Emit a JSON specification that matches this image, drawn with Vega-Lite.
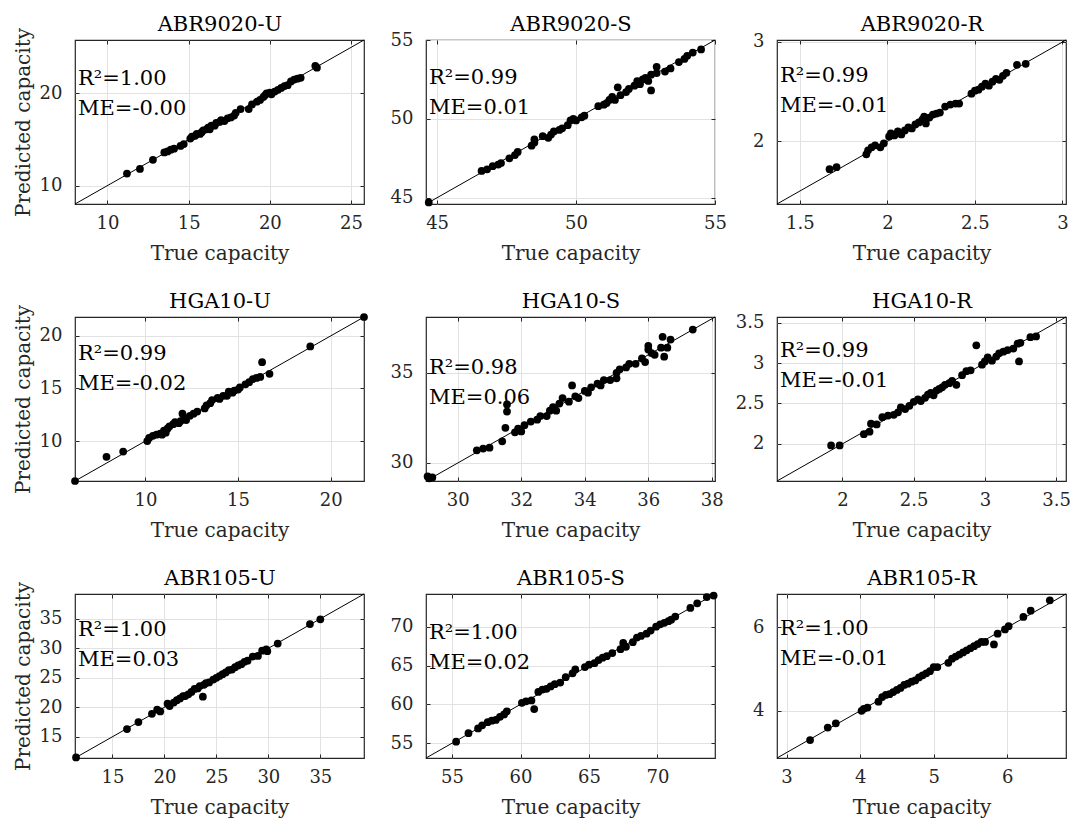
{
  "$schema": "https://vega.github.io/schema/vega-lite/v6.json",
  "padding": {"left": 12, "top": 12, "right": 4, "bottom": 4},
  "background": "white",
  "bounds": "flush",
  "columns": 3,
  "spacing": {"row": 113, "column": 62},
  "datasets": {
    "rows": [
      {"panel":"ABR9020-U","kind":"diag","t":8,"p":8,"t2":25.8,"p2":25.8},
      {"panel":"ABR9020-U","kind":"note","t":8,"p":20.91,"label":"R²=1.00\nME=-0.00"},
      {"panel":"ABR9020-S","kind":"diag","t":44.6,"p":44.6,"t2":55,"p2":55},
      {"panel":"ABR9020-S","kind":"note","t":44.6,"p":52.19,"label":"R²=0.99\nME=0.01"},
      {"panel":"ABR9020-R","kind":"diag","t":1.37,"p":1.37,"t2":3.02,"p2":3.02},
      {"panel":"ABR9020-R","kind":"note","t":1.37,"p":2.6,"label":"R²=0.99\nME=-0.01"},
      {"panel":"HGA10-U","kind":"diag","t":6.2,"p":6.2,"t2":21.8,"p2":21.8},
      {"panel":"HGA10-U","kind":"note","t":6.2,"p":17.68,"label":"R²=0.99\nME=-0.02"},
      {"panel":"HGA10-S","kind":"diag","t":29.0,"p":29.0,"t2":38.1,"p2":38.1},
      {"panel":"HGA10-S","kind":"note","t":29.0,"p":34.95,"label":"R²=0.98\nME=0.06"},
      {"panel":"HGA10-R","kind":"diag","t":1.54,"p":1.54,"t2":3.57,"p2":3.57},
      {"panel":"HGA10-R","kind":"note","t":1.54,"p":3.08,"label":"R²=0.99\nME=-0.01"},
      {"panel":"ABR105-U","kind":"diag","t":11.4,"p":11.4,"t2":39.2,"p2":39.2},
      {"panel":"ABR105-U","kind":"note","t":11.4,"p":32.06,"label":"R²=1.00\nME=0.03"},
      {"panel":"ABR105-S","kind":"diag","t":53.1,"p":53.1,"t2":74.2,"p2":74.2},
      {"panel":"ABR105-S","kind":"note","t":53.1,"p":68.37,"label":"R²=1.00\nME=0.02"},
      {"panel":"ABR105-R","kind":"diag","t":2.87,"p":2.87,"t2":6.8,"p2":6.8},
      {"panel":"ABR105-R","kind":"note","t":2.87,"p":5.82,"label":"R²=1.00\nME=-0.01"},

      {"panel":"ABR9020-U","t":11.2,"p":11.3},{"panel":"ABR9020-U","t":12.0,"p":11.8},{"panel":"ABR9020-U","t":12.8,"p":12.8},{"panel":"ABR9020-U","t":13.5,"p":13.6},{"panel":"ABR9020-U","t":13.7,"p":13.7},{"panel":"ABR9020-U","t":13.9,"p":13.9},{"panel":"ABR9020-U","t":14.1,"p":14.0},{"panel":"ABR9020-U","t":14.5,"p":14.3},{"panel":"ABR9020-U","t":14.7,"p":14.5},{"panel":"ABR9020-U","t":15.1,"p":15.1},{"panel":"ABR9020-U","t":15.2,"p":15.3},{"panel":"ABR9020-U","t":15.4,"p":15.4},{"panel":"ABR9020-U","t":15.5,"p":15.6},{"panel":"ABR9020-U","t":15.7,"p":15.6},{"panel":"ABR9020-U","t":15.8,"p":15.8},{"panel":"ABR9020-U","t":15.9,"p":16.0},{"panel":"ABR9020-U","t":16.1,"p":16.1},{"panel":"ABR9020-U","t":16.2,"p":16.3},{"panel":"ABR9020-U","t":16.3,"p":16.1},{"panel":"ABR9020-U","t":16.4,"p":16.5},{"panel":"ABR9020-U","t":16.6,"p":16.5},{"panel":"ABR9020-U","t":16.7,"p":16.8},{"panel":"ABR9020-U","t":16.9,"p":16.9},{"panel":"ABR9020-U","t":17.0,"p":17.1},{"panel":"ABR9020-U","t":17.2,"p":17.0},{"panel":"ABR9020-U","t":17.4,"p":17.3},{"panel":"ABR9020-U","t":17.6,"p":17.4},{"panel":"ABR9020-U","t":17.8,"p":17.6},{"panel":"ABR9020-U","t":17.9,"p":17.9},{"panel":"ABR9020-U","t":18.2,"p":18.3},{"panel":"ABR9020-U","t":18.7,"p":18.3},{"panel":"ABR9020-U","t":18.9,"p":18.8},{"panel":"ABR9020-U","t":19.2,"p":19.1},{"panel":"ABR9020-U","t":19.4,"p":19.3},{"panel":"ABR9020-U","t":19.6,"p":19.6},{"panel":"ABR9020-U","t":19.7,"p":19.8},{"panel":"ABR9020-U","t":19.8,"p":20.0},{"panel":"ABR9020-U","t":20.0,"p":20.1},{"panel":"ABR9020-U","t":20.1,"p":19.9},{"panel":"ABR9020-U","t":20.3,"p":20.2},{"panel":"ABR9020-U","t":20.5,"p":20.4},{"panel":"ABR9020-U","t":20.7,"p":20.6},{"panel":"ABR9020-U","t":20.9,"p":20.8},{"panel":"ABR9020-U","t":21.1,"p":20.9},{"panel":"ABR9020-U","t":21.3,"p":21.3},{"panel":"ABR9020-U","t":21.5,"p":21.5},{"panel":"ABR9020-U","t":21.7,"p":21.6},{"panel":"ABR9020-U","t":21.9,"p":21.7},{"panel":"ABR9020-U","t":22.8,"p":23.0},{"panel":"ABR9020-U","t":22.9,"p":22.8},

      {"panel":"ABR9020-S","t":44.7,"p":44.7},{"panel":"ABR9020-S","t":46.6,"p":46.7},{"panel":"ABR9020-S","t":46.8,"p":46.8},{"panel":"ABR9020-S","t":47.0,"p":47.0},{"panel":"ABR9020-S","t":47.2,"p":47.1},{"panel":"ABR9020-S","t":47.3,"p":47.2},{"panel":"ABR9020-S","t":47.6,"p":47.5},{"panel":"ABR9020-S","t":47.8,"p":47.7},{"panel":"ABR9020-S","t":47.9,"p":47.9},{"panel":"ABR9020-S","t":48.4,"p":48.3},{"panel":"ABR9020-S","t":48.5,"p":48.5},{"panel":"ABR9020-S","t":48.5,"p":48.7},{"panel":"ABR9020-S","t":48.8,"p":48.9},{"panel":"ABR9020-S","t":49.0,"p":48.8},{"panel":"ABR9020-S","t":49.1,"p":49.0},{"panel":"ABR9020-S","t":49.2,"p":49.2},{"panel":"ABR9020-S","t":49.4,"p":49.3},{"panel":"ABR9020-S","t":49.5,"p":49.4},{"panel":"ABR9020-S","t":49.7,"p":49.6},{"panel":"ABR9020-S","t":49.8,"p":49.9},{"panel":"ABR9020-S","t":49.9,"p":50.0},{"panel":"ABR9020-S","t":50.0,"p":49.9},{"panel":"ABR9020-S","t":50.2,"p":50.1},{"panel":"ABR9020-S","t":50.3,"p":50.2},{"panel":"ABR9020-S","t":50.8,"p":50.8},{"panel":"ABR9020-S","t":51.0,"p":50.9},{"panel":"ABR9020-S","t":51.1,"p":51.0},{"panel":"ABR9020-S","t":51.2,"p":51.2},{"panel":"ABR9020-S","t":51.3,"p":51.4},{"panel":"ABR9020-S","t":51.4,"p":51.2},{"panel":"ABR9020-S","t":51.5,"p":52.0},{"panel":"ABR9020-S","t":51.6,"p":51.5},{"panel":"ABR9020-S","t":51.8,"p":51.7},{"panel":"ABR9020-S","t":51.9,"p":51.9},{"panel":"ABR9020-S","t":52.1,"p":52.1},{"panel":"ABR9020-S","t":52.2,"p":52.4},{"panel":"ABR9020-S","t":52.3,"p":52.2},{"panel":"ABR9020-S","t":52.4,"p":52.5},{"panel":"ABR9020-S","t":52.5,"p":52.6},{"panel":"ABR9020-S","t":52.6,"p":52.4},{"panel":"ABR9020-S","t":52.7,"p":51.8},{"panel":"ABR9020-S","t":52.7,"p":52.8},{"panel":"ABR9020-S","t":52.9,"p":53.3},{"panel":"ABR9020-S","t":52.9,"p":52.9},{"panel":"ABR9020-S","t":53.2,"p":53.0},{"panel":"ABR9020-S","t":53.4,"p":53.2},{"panel":"ABR9020-S","t":53.7,"p":53.6},{"panel":"ABR9020-S","t":53.9,"p":53.8},{"panel":"ABR9020-S","t":54.0,"p":54.0},{"panel":"ABR9020-S","t":54.2,"p":54.2},{"panel":"ABR9020-S","t":54.5,"p":54.4},

      {"panel":"ABR9020-R","t":1.67,"p":1.72},{"panel":"ABR9020-R","t":1.71,"p":1.74},{"panel":"ABR9020-R","t":1.88,"p":1.87},{"panel":"ABR9020-R","t":1.89,"p":1.91},{"panel":"ABR9020-R","t":1.91,"p":1.94},{"panel":"ABR9020-R","t":1.93,"p":1.96},{"panel":"ABR9020-R","t":1.96,"p":1.94},{"panel":"ABR9020-R","t":1.98,"p":1.98},{"panel":"ABR9020-R","t":2.01,"p":2.05},{"panel":"ABR9020-R","t":2.02,"p":2.08},{"panel":"ABR9020-R","t":2.04,"p":2.06},{"panel":"ABR9020-R","t":2.06,"p":2.10},{"panel":"ABR9020-R","t":2.08,"p":2.07},{"panel":"ABR9020-R","t":2.10,"p":2.11},{"panel":"ABR9020-R","t":2.12,"p":2.14},{"panel":"ABR9020-R","t":2.14,"p":2.13},{"panel":"ABR9020-R","t":2.16,"p":2.17},{"panel":"ABR9020-R","t":2.18,"p":2.19},{"panel":"ABR9020-R","t":2.20,"p":2.22},{"panel":"ABR9020-R","t":2.21,"p":2.25},{"panel":"ABR9020-R","t":2.22,"p":2.18},{"panel":"ABR9020-R","t":2.24,"p":2.24},{"panel":"ABR9020-R","t":2.26,"p":2.27},{"panel":"ABR9020-R","t":2.28,"p":2.28},{"panel":"ABR9020-R","t":2.30,"p":2.29},{"panel":"ABR9020-R","t":2.33,"p":2.35},{"panel":"ABR9020-R","t":2.36,"p":2.37},{"panel":"ABR9020-R","t":2.39,"p":2.38},{"panel":"ABR9020-R","t":2.41,"p":2.38},{"panel":"ABR9020-R","t":2.48,"p":2.48},{"panel":"ABR9020-R","t":2.50,"p":2.51},{"panel":"ABR9020-R","t":2.52,"p":2.52},{"panel":"ABR9020-R","t":2.54,"p":2.55},{"panel":"ABR9020-R","t":2.56,"p":2.58},{"panel":"ABR9020-R","t":2.58,"p":2.56},{"panel":"ABR9020-R","t":2.60,"p":2.60},{"panel":"ABR9020-R","t":2.62,"p":2.63},{"panel":"ABR9020-R","t":2.64,"p":2.62},{"panel":"ABR9020-R","t":2.66,"p":2.66},{"panel":"ABR9020-R","t":2.68,"p":2.69},{"panel":"ABR9020-R","t":2.74,"p":2.77},{"panel":"ABR9020-R","t":2.79,"p":2.78},

      {"panel":"HGA10-U","t":6.2,"p":6.2},{"panel":"HGA10-U","t":7.9,"p":8.5},{"panel":"HGA10-U","t":8.8,"p":9.0},{"panel":"HGA10-U","t":10.1,"p":10.0},{"panel":"HGA10-U","t":10.2,"p":10.3},{"panel":"HGA10-U","t":10.4,"p":10.5},{"panel":"HGA10-U","t":10.6,"p":10.6},{"panel":"HGA10-U","t":10.8,"p":10.7},{"panel":"HGA10-U","t":10.9,"p":10.6},{"panel":"HGA10-U","t":11.0,"p":11.0},{"panel":"HGA10-U","t":11.1,"p":10.8},{"panel":"HGA10-U","t":11.2,"p":11.2},{"panel":"HGA10-U","t":11.3,"p":11.4},{"panel":"HGA10-U","t":11.5,"p":11.6},{"panel":"HGA10-U","t":11.6,"p":11.8},{"panel":"HGA10-U","t":11.8,"p":11.7},{"panel":"HGA10-U","t":11.9,"p":11.9},{"panel":"HGA10-U","t":12.0,"p":12.6},{"panel":"HGA10-U","t":12.1,"p":12.2},{"panel":"HGA10-U","t":12.2,"p":12.0},{"panel":"HGA10-U","t":12.4,"p":12.4},{"panel":"HGA10-U","t":12.6,"p":12.6},{"panel":"HGA10-U","t":12.8,"p":12.8},{"panel":"HGA10-U","t":13.2,"p":13.1},{"panel":"HGA10-U","t":13.3,"p":13.4},{"panel":"HGA10-U","t":13.5,"p":13.6},{"panel":"HGA10-U","t":13.6,"p":13.9},{"panel":"HGA10-U","t":13.9,"p":14.1},{"panel":"HGA10-U","t":14.0,"p":14.0},{"panel":"HGA10-U","t":14.2,"p":14.3},{"panel":"HGA10-U","t":14.4,"p":14.3},{"panel":"HGA10-U","t":14.5,"p":14.7},{"panel":"HGA10-U","t":14.7,"p":14.6},{"panel":"HGA10-U","t":14.8,"p":14.8},{"panel":"HGA10-U","t":15.0,"p":14.9},{"panel":"HGA10-U","t":15.1,"p":15.1},{"panel":"HGA10-U","t":15.4,"p":15.4},{"panel":"HGA10-U","t":15.6,"p":15.6},{"panel":"HGA10-U","t":15.8,"p":15.9},{"panel":"HGA10-U","t":16.0,"p":16.0},{"panel":"HGA10-U","t":16.2,"p":16.1},{"panel":"HGA10-U","t":16.3,"p":17.5},{"panel":"HGA10-U","t":16.7,"p":16.4},{"panel":"HGA10-U","t":18.9,"p":19.0},{"panel":"HGA10-U","t":21.8,"p":21.8},

      {"panel":"HGA10-S","t":29.05,"p":29.25},{"panel":"HGA10-S","t":29.1,"p":29.15},{"panel":"HGA10-S","t":29.2,"p":29.2},{"panel":"HGA10-S","t":30.6,"p":30.7},{"panel":"HGA10-S","t":30.8,"p":30.8},{"panel":"HGA10-S","t":31.0,"p":30.85},{"panel":"HGA10-S","t":31.4,"p":31.2},{"panel":"HGA10-S","t":31.5,"p":31.95},{"panel":"HGA10-S","t":31.55,"p":32.85},{"panel":"HGA10-S","t":31.55,"p":33.25},{"panel":"HGA10-S","t":31.8,"p":31.7},{"panel":"HGA10-S","t":31.9,"p":31.9},{"panel":"HGA10-S","t":32.0,"p":31.75},{"panel":"HGA10-S","t":32.1,"p":32.1},{"panel":"HGA10-S","t":32.3,"p":32.3},{"panel":"HGA10-S","t":32.5,"p":32.4},{"panel":"HGA10-S","t":32.6,"p":32.6},{"panel":"HGA10-S","t":32.8,"p":32.6},{"panel":"HGA10-S","t":32.9,"p":32.9},{"panel":"HGA10-S","t":33.0,"p":33.1},{"panel":"HGA10-S","t":33.1,"p":32.9},{"panel":"HGA10-S","t":33.2,"p":33.3},{"panel":"HGA10-S","t":33.3,"p":33.6},{"panel":"HGA10-S","t":33.5,"p":33.4},{"panel":"HGA10-S","t":33.6,"p":34.3},{"panel":"HGA10-S","t":33.7,"p":33.7},{"panel":"HGA10-S","t":33.8,"p":33.6},{"panel":"HGA10-S","t":34.0,"p":34.0},{"panel":"HGA10-S","t":34.1,"p":33.9},{"panel":"HGA10-S","t":34.2,"p":34.2},{"panel":"HGA10-S","t":34.4,"p":34.4},{"panel":"HGA10-S","t":34.5,"p":34.3},{"panel":"HGA10-S","t":34.6,"p":34.6},{"panel":"HGA10-S","t":34.8,"p":34.6},{"panel":"HGA10-S","t":35.0,"p":35.0},{"panel":"HGA10-S","t":35.0,"p":34.7},{"panel":"HGA10-S","t":35.1,"p":35.2},{"panel":"HGA10-S","t":35.3,"p":35.3},{"panel":"HGA10-S","t":35.4,"p":35.5},{"panel":"HGA10-S","t":35.6,"p":35.5},{"panel":"HGA10-S","t":35.8,"p":35.8},{"panel":"HGA10-S","t":35.9,"p":35.6},{"panel":"HGA10-S","t":36.0,"p":36.3},{"panel":"HGA10-S","t":36.0,"p":36.5},{"panel":"HGA10-S","t":36.1,"p":36.1},{"panel":"HGA10-S","t":36.2,"p":36.0},{"panel":"HGA10-S","t":36.4,"p":36.4},{"panel":"HGA10-S","t":36.45,"p":37.0},{"panel":"HGA10-S","t":36.5,"p":35.9},{"panel":"HGA10-S","t":36.6,"p":36.4},{"panel":"HGA10-S","t":36.7,"p":36.85},{"panel":"HGA10-S","t":37.4,"p":37.4},

      {"panel":"HGA10-R","t":1.92,"p":1.98},{"panel":"HGA10-R","t":1.98,"p":1.98},{"panel":"HGA10-R","t":2.15,"p":2.12},{"panel":"HGA10-R","t":2.19,"p":2.15},{"panel":"HGA10-R","t":2.2,"p":2.25},{"panel":"HGA10-R","t":2.24,"p":2.24},{"panel":"HGA10-R","t":2.28,"p":2.33},{"panel":"HGA10-R","t":2.32,"p":2.35},{"panel":"HGA10-R","t":2.36,"p":2.36},{"panel":"HGA10-R","t":2.39,"p":2.39},{"panel":"HGA10-R","t":2.41,"p":2.45},{"panel":"HGA10-R","t":2.44,"p":2.43},{"panel":"HGA10-R","t":2.47,"p":2.47},{"panel":"HGA10-R","t":2.5,"p":2.52},{"panel":"HGA10-R","t":2.53,"p":2.55},{"panel":"HGA10-R","t":2.55,"p":2.53},{"panel":"HGA10-R","t":2.58,"p":2.57},{"panel":"HGA10-R","t":2.6,"p":2.61},{"panel":"HGA10-R","t":2.62,"p":2.63},{"panel":"HGA10-R","t":2.64,"p":2.6},{"panel":"HGA10-R","t":2.66,"p":2.66},{"panel":"HGA10-R","t":2.68,"p":2.68},{"panel":"HGA10-R","t":2.7,"p":2.7},{"panel":"HGA10-R","t":2.72,"p":2.73},{"panel":"HGA10-R","t":2.75,"p":2.75},{"panel":"HGA10-R","t":2.77,"p":2.78},{"panel":"HGA10-R","t":2.8,"p":2.73},{"panel":"HGA10-R","t":2.84,"p":2.85},{"panel":"HGA10-R","t":2.87,"p":2.9},{"panel":"HGA10-R","t":2.9,"p":2.91},{"panel":"HGA10-R","t":2.94,"p":3.22},{"panel":"HGA10-R","t":2.98,"p":2.98},{"panel":"HGA10-R","t":3.0,"p":3.02},{"panel":"HGA10-R","t":3.02,"p":3.07},{"panel":"HGA10-R","t":3.05,"p":3.03},{"panel":"HGA10-R","t":3.08,"p":3.08},{"panel":"HGA10-R","t":3.1,"p":3.12},{"panel":"HGA10-R","t":3.13,"p":3.14},{"panel":"HGA10-R","t":3.16,"p":3.16},{"panel":"HGA10-R","t":3.2,"p":3.18},{"panel":"HGA10-R","t":3.23,"p":3.24},{"panel":"HGA10-R","t":3.25,"p":3.25},{"panel":"HGA10-R","t":3.24,"p":3.02},{"panel":"HGA10-R","t":3.32,"p":3.32},{"panel":"HGA10-R","t":3.36,"p":3.33},

      {"panel":"ABR105-U","t":11.5,"p":11.5},{"panel":"ABR105-U","t":16.4,"p":16.3},{"panel":"ABR105-U","t":17.5,"p":17.5},{"panel":"ABR105-U","t":18.8,"p":18.9},{"panel":"ABR105-U","t":19.3,"p":19.6},{"panel":"ABR105-U","t":19.6,"p":19.3},{"panel":"ABR105-U","t":20.3,"p":20.6},{"panel":"ABR105-U","t":20.5,"p":20.2},{"panel":"ABR105-U","t":20.9,"p":20.8},{"panel":"ABR105-U","t":21.2,"p":21.2},{"panel":"ABR105-U","t":21.5,"p":21.5},{"panel":"ABR105-U","t":21.8,"p":21.9},{"panel":"ABR105-U","t":22.0,"p":21.9},{"panel":"ABR105-U","t":22.3,"p":22.2},{"panel":"ABR105-U","t":22.6,"p":22.6},{"panel":"ABR105-U","t":22.9,"p":23.1},{"panel":"ABR105-U","t":23.2,"p":23.2},{"panel":"ABR105-U","t":23.4,"p":23.6},{"panel":"ABR105-U","t":23.7,"p":21.8},{"panel":"ABR105-U","t":23.8,"p":23.8},{"panel":"ABR105-U","t":24.0,"p":24.1},{"panel":"ABR105-U","t":24.3,"p":24.2},{"panel":"ABR105-U","t":24.7,"p":24.7},{"panel":"ABR105-U","t":25.0,"p":25.0},{"panel":"ABR105-U","t":25.3,"p":25.3},{"panel":"ABR105-U","t":25.6,"p":25.6},{"panel":"ABR105-U","t":25.9,"p":25.9},{"panel":"ABR105-U","t":26.2,"p":26.3},{"panel":"ABR105-U","t":26.5,"p":26.4},{"panel":"ABR105-U","t":26.8,"p":26.8},{"panel":"ABR105-U","t":27.1,"p":27.1},{"panel":"ABR105-U","t":27.4,"p":27.3},{"panel":"ABR105-U","t":27.7,"p":27.7},{"panel":"ABR105-U","t":28.0,"p":27.9},{"panel":"ABR105-U","t":28.5,"p":28.6},{"panel":"ABR105-U","t":29.0,"p":28.7},{"panel":"ABR105-U","t":29.4,"p":29.6},{"panel":"ABR105-U","t":29.8,"p":29.8},{"panel":"ABR105-U","t":29.9,"p":29.5},{"panel":"ABR105-U","t":30.9,"p":30.8},{"panel":"ABR105-U","t":34.0,"p":34.1},{"panel":"ABR105-U","t":35.0,"p":34.9},

      {"panel":"ABR105-S","t":55.3,"p":55.2},{"panel":"ABR105-S","t":56.2,"p":56.3},{"panel":"ABR105-S","t":56.9,"p":56.9},{"panel":"ABR105-S","t":57.2,"p":57.3},{"panel":"ABR105-S","t":57.6,"p":57.7},{"panel":"ABR105-S","t":57.9,"p":57.9},{"panel":"ABR105-S","t":58.2,"p":58.0},{"panel":"ABR105-S","t":58.5,"p":58.4},{"panel":"ABR105-S","t":58.8,"p":58.7},{"panel":"ABR105-S","t":59.0,"p":59.1},{"panel":"ABR105-S","t":60.1,"p":60.2},{"panel":"ABR105-S","t":60.4,"p":60.4},{"panel":"ABR105-S","t":60.8,"p":60.5},{"panel":"ABR105-S","t":61.0,"p":59.4},{"panel":"ABR105-S","t":61.3,"p":61.6},{"panel":"ABR105-S","t":61.6,"p":61.9},{"panel":"ABR105-S","t":61.9,"p":62.0},{"panel":"ABR105-S","t":62.2,"p":62.3},{"panel":"ABR105-S","t":62.5,"p":62.6},{"panel":"ABR105-S","t":62.9,"p":62.8},{"panel":"ABR105-S","t":63.3,"p":63.5},{"panel":"ABR105-S","t":63.8,"p":64.0},{"panel":"ABR105-S","t":64.0,"p":64.5},{"panel":"ABR105-S","t":64.7,"p":64.8},{"panel":"ABR105-S","t":65.0,"p":65.1},{"panel":"ABR105-S","t":65.4,"p":65.3},{"panel":"ABR105-S","t":65.7,"p":65.7},{"panel":"ABR105-S","t":66.0,"p":66.0},{"panel":"ABR105-S","t":66.3,"p":66.2},{"panel":"ABR105-S","t":66.7,"p":66.6},{"panel":"ABR105-S","t":67.3,"p":67.1},{"panel":"ABR105-S","t":67.5,"p":67.9},{"panel":"ABR105-S","t":67.7,"p":67.4},{"panel":"ABR105-S","t":68.2,"p":68.0},{"panel":"ABR105-S","t":68.5,"p":68.6},{"panel":"ABR105-S","t":68.8,"p":68.8},{"panel":"ABR105-S","t":69.2,"p":69.1},{"panel":"ABR105-S","t":69.5,"p":69.5},{"panel":"ABR105-S","t":69.9,"p":70.0},{"panel":"ABR105-S","t":70.2,"p":70.3},{"panel":"ABR105-S","t":70.5,"p":70.5},{"panel":"ABR105-S","t":70.8,"p":70.7},{"panel":"ABR105-S","t":71.0,"p":70.9},{"panel":"ABR105-S","t":71.3,"p":71.3},{"panel":"ABR105-S","t":72.4,"p":72.4},{"panel":"ABR105-S","t":72.9,"p":73.0},{"panel":"ABR105-S","t":73.6,"p":73.8},{"panel":"ABR105-S","t":74.1,"p":74.0},

      {"panel":"ABR105-R","t":3.32,"p":3.3},{"panel":"ABR105-R","t":3.56,"p":3.6},{"panel":"ABR105-R","t":3.67,"p":3.7},{"panel":"ABR105-R","t":4.02,"p":4.0},{"panel":"ABR105-R","t":4.05,"p":4.05},{"panel":"ABR105-R","t":4.1,"p":4.08},{"panel":"ABR105-R","t":4.25,"p":4.22},{"panel":"ABR105-R","t":4.3,"p":4.33},{"panel":"ABR105-R","t":4.35,"p":4.38},{"panel":"ABR105-R","t":4.4,"p":4.4},{"panel":"ABR105-R","t":4.45,"p":4.45},{"panel":"ABR105-R","t":4.5,"p":4.5},{"panel":"ABR105-R","t":4.55,"p":4.55},{"panel":"ABR105-R","t":4.6,"p":4.62},{"panel":"ABR105-R","t":4.65,"p":4.65},{"panel":"ABR105-R","t":4.7,"p":4.7},{"panel":"ABR105-R","t":4.75,"p":4.73},{"panel":"ABR105-R","t":4.8,"p":4.8},{"panel":"ABR105-R","t":4.85,"p":4.85},{"panel":"ABR105-R","t":4.9,"p":4.9},{"panel":"ABR105-R","t":4.95,"p":4.95},{"panel":"ABR105-R","t":5.0,"p":5.05},{"panel":"ABR105-R","t":5.05,"p":5.05},{"panel":"ABR105-R","t":5.2,"p":5.15},{"panel":"ABR105-R","t":5.25,"p":5.25},{"panel":"ABR105-R","t":5.3,"p":5.3},{"panel":"ABR105-R","t":5.35,"p":5.35},{"panel":"ABR105-R","t":5.4,"p":5.4},{"panel":"ABR105-R","t":5.45,"p":5.45},{"panel":"ABR105-R","t":5.5,"p":5.5},{"panel":"ABR105-R","t":5.55,"p":5.55},{"panel":"ABR105-R","t":5.6,"p":5.6},{"panel":"ABR105-R","t":5.65,"p":5.65},{"panel":"ABR105-R","t":5.7,"p":5.65},{"panel":"ABR105-R","t":5.82,"p":5.59},{"panel":"ABR105-R","t":5.87,"p":5.85},{"panel":"ABR105-R","t":5.97,"p":5.95},{"panel":"ABR105-R","t":6.02,"p":6.03},{"panel":"ABR105-R","t":6.22,"p":6.25},{"panel":"ABR105-R","t":6.32,"p":6.4},{"panel":"ABR105-R","t":6.58,"p":6.65}
    ]
  },
  "concat": [
      {"width":289,"height":164,"data":{"name":"rows"},"transform":[{"filter":"datum.panel==='ABR9020-U'"}],
       "resolve":{"axis":{"x":"independent","y":"independent"}},
       "layer":[
        {"transform":[{"filter":"datum.kind==='diag'"}],"mark":{"type":"rule","color":"#000","strokeWidth":1},
         "encoding":{"x":{"field":"t","type":"quantitative","scale":{"domain":[8,25.8],"nice":false,"zero":false},"axis":{"title":"True capacity","values":[10,15,20,25],"format":".2~f"}},
                     "y":{"field":"p","type":"quantitative","scale":{"domain":[8,25.8],"nice":false,"zero":false},"axis":{"title":"Predicted capacity","values":[10,20],"format":".2~f"}},
                     "x2":{"field":"t2"},"y2":{"field":"p2"}}},
        {"transform":[{"filter":"!datum.kind"}],"mark":{"type":"circle","size":60,"color":"#000","opacity":1},
         "encoding":{"x":{"field":"t","type":"quantitative","axis":{"orient":"top","title":"ABR9020-U","labels":false,"grid":false,"values":[10,15,20,25]}},
                     "y":{"field":"p","type":"quantitative","axis":{"orient":"right","title":null,"labels":false,"grid":false,"values":[10,20]}}}},
        {"transform":[{"filter":"datum.kind==='note'"}],"mark":{"type":"text","align":"left","baseline":"alphabetic","dx":3,"fontSize":21,"lineBreak":"\n","lineHeight":30,"color":"#000"},
         "encoding":{"x":{"field":"t","type":"quantitative","axis":null},"y":{"field":"p","type":"quantitative","axis":null},"text":{"field":"label"}}}
       ]},
      {"width":289,"height":164,"data":{"name":"rows"},"transform":[{"filter":"datum.panel==='ABR9020-S'"}],
       "resolve":{"axis":{"x":"independent","y":"independent"}},
       "layer":[
        {"transform":[{"filter":"datum.kind==='diag'"}],"mark":{"type":"rule","color":"#000","strokeWidth":1},
         "encoding":{"x":{"field":"t","type":"quantitative","scale":{"domain":[44.6,55],"nice":false,"zero":false},"axis":{"title":"True capacity","values":[45,50,55],"format":".2~f"}},
                     "y":{"field":"p","type":"quantitative","scale":{"domain":[44.6,55],"nice":false,"zero":false},"axis":{"title":null,"values":[45,50,55],"format":".2~f"}},
                     "x2":{"field":"t2"},"y2":{"field":"p2"}}},
        {"transform":[{"filter":"!datum.kind"}],"mark":{"type":"circle","size":60,"color":"#000","opacity":1},
         "encoding":{"x":{"field":"t","type":"quantitative","axis":{"orient":"top","title":"ABR9020-S","labels":false,"grid":false,"values":[45,50,55]}},
                     "y":{"field":"p","type":"quantitative","axis":{"orient":"right","title":null,"labels":false,"grid":false,"values":[45,50,55]}}}},
        {"transform":[{"filter":"datum.kind==='note'"}],"mark":{"type":"text","align":"left","baseline":"alphabetic","dx":3,"fontSize":21,"lineBreak":"\n","lineHeight":30,"color":"#000"},
         "encoding":{"x":{"field":"t","type":"quantitative","axis":null},"y":{"field":"p","type":"quantitative","axis":null},"text":{"field":"label"}}}
       ]},
      {"width":289,"height":164,"data":{"name":"rows"},"transform":[{"filter":"datum.panel==='ABR9020-R'"}],
       "resolve":{"axis":{"x":"independent","y":"independent"}},
       "layer":[
        {"transform":[{"filter":"datum.kind==='diag'"}],"mark":{"type":"rule","color":"#000","strokeWidth":1},
         "encoding":{"x":{"field":"t","type":"quantitative","scale":{"domain":[1.37,3.02],"nice":false,"zero":false},"axis":{"title":"True capacity","values":[1.5,2,2.5,3],"format":".2~f"}},
                     "y":{"field":"p","type":"quantitative","scale":{"domain":[1.37,3.02],"nice":false,"zero":false},"axis":{"title":null,"values":[2,3],"format":".2~f"}},
                     "x2":{"field":"t2"},"y2":{"field":"p2"}}},
        {"transform":[{"filter":"!datum.kind"}],"mark":{"type":"circle","size":60,"color":"#000","opacity":1},
         "encoding":{"x":{"field":"t","type":"quantitative","axis":{"orient":"top","title":"ABR9020-R","labels":false,"grid":false,"values":[1.5,2,2.5,3]}},
                     "y":{"field":"p","type":"quantitative","axis":{"orient":"right","title":null,"labels":false,"grid":false,"values":[2,3]}}}},
        {"transform":[{"filter":"datum.kind==='note'"}],"mark":{"type":"text","align":"left","baseline":"alphabetic","dx":3,"fontSize":21,"lineBreak":"\n","lineHeight":30,"color":"#000"},
         "encoding":{"x":{"field":"t","type":"quantitative","axis":null},"y":{"field":"p","type":"quantitative","axis":null},"text":{"field":"label"}}}
       ]},
      {"width":289,"height":164,"data":{"name":"rows"},"transform":[{"filter":"datum.panel==='HGA10-U'"}],
       "resolve":{"axis":{"x":"independent","y":"independent"}},
       "layer":[
        {"transform":[{"filter":"datum.kind==='diag'"}],"mark":{"type":"rule","color":"#000","strokeWidth":1},
         "encoding":{"x":{"field":"t","type":"quantitative","scale":{"domain":[6.2,21.8],"nice":false,"zero":false},"axis":{"title":"True capacity","values":[10,15,20],"format":".2~f"}},
                     "y":{"field":"p","type":"quantitative","scale":{"domain":[6.2,21.8],"nice":false,"zero":false},"axis":{"title":"Predicted capacity","values":[10,15,20],"format":".2~f"}},
                     "x2":{"field":"t2"},"y2":{"field":"p2"}}},
        {"transform":[{"filter":"!datum.kind"}],"mark":{"type":"circle","size":60,"color":"#000","opacity":1},
         "encoding":{"x":{"field":"t","type":"quantitative","axis":{"orient":"top","title":"HGA10-U","labels":false,"grid":false,"values":[10,15,20]}},
                     "y":{"field":"p","type":"quantitative","axis":{"orient":"right","title":null,"labels":false,"grid":false,"values":[10,15,20]}}}},
        {"transform":[{"filter":"datum.kind==='note'"}],"mark":{"type":"text","align":"left","baseline":"alphabetic","dx":3,"fontSize":21,"lineBreak":"\n","lineHeight":30,"color":"#000"},
         "encoding":{"x":{"field":"t","type":"quantitative","axis":null},"y":{"field":"p","type":"quantitative","axis":null},"text":{"field":"label"}}}
       ]},
      {"width":289,"height":164,"data":{"name":"rows"},"transform":[{"filter":"datum.panel==='HGA10-S'"}],
       "resolve":{"axis":{"x":"independent","y":"independent"}},
       "layer":[
        {"transform":[{"filter":"datum.kind==='diag'"}],"mark":{"type":"rule","color":"#000","strokeWidth":1},
         "encoding":{"x":{"field":"t","type":"quantitative","scale":{"domain":[29.0,38.1],"nice":false,"zero":false},"axis":{"title":"True capacity","values":[30,32,34,36,38],"format":".2~f"}},
                     "y":{"field":"p","type":"quantitative","scale":{"domain":[29.0,38.1],"nice":false,"zero":false},"axis":{"title":null,"values":[30,35],"format":".2~f"}},
                     "x2":{"field":"t2"},"y2":{"field":"p2"}}},
        {"transform":[{"filter":"!datum.kind"}],"mark":{"type":"circle","size":60,"color":"#000","opacity":1},
         "encoding":{"x":{"field":"t","type":"quantitative","axis":{"orient":"top","title":"HGA10-S","labels":false,"grid":false,"values":[30,32,34,36,38]}},
                     "y":{"field":"p","type":"quantitative","axis":{"orient":"right","title":null,"labels":false,"grid":false,"values":[30,35]}}}},
        {"transform":[{"filter":"datum.kind==='note'"}],"mark":{"type":"text","align":"left","baseline":"alphabetic","dx":3,"fontSize":21,"lineBreak":"\n","lineHeight":30,"color":"#000"},
         "encoding":{"x":{"field":"t","type":"quantitative","axis":null},"y":{"field":"p","type":"quantitative","axis":null},"text":{"field":"label"}}}
       ]},
      {"width":289,"height":164,"data":{"name":"rows"},"transform":[{"filter":"datum.panel==='HGA10-R'"}],
       "resolve":{"axis":{"x":"independent","y":"independent"}},
       "layer":[
        {"transform":[{"filter":"datum.kind==='diag'"}],"mark":{"type":"rule","color":"#000","strokeWidth":1},
         "encoding":{"x":{"field":"t","type":"quantitative","scale":{"domain":[1.54,3.57],"nice":false,"zero":false},"axis":{"title":"True capacity","values":[2,2.5,3,3.5],"format":".2~f"}},
                     "y":{"field":"p","type":"quantitative","scale":{"domain":[1.54,3.57],"nice":false,"zero":false},"axis":{"title":null,"values":[2,2.5,3,3.5],"format":".2~f"}},
                     "x2":{"field":"t2"},"y2":{"field":"p2"}}},
        {"transform":[{"filter":"!datum.kind"}],"mark":{"type":"circle","size":60,"color":"#000","opacity":1},
         "encoding":{"x":{"field":"t","type":"quantitative","axis":{"orient":"top","title":"HGA10-R","labels":false,"grid":false,"values":[2,2.5,3,3.5]}},
                     "y":{"field":"p","type":"quantitative","axis":{"orient":"right","title":null,"labels":false,"grid":false,"values":[2,2.5,3,3.5]}}}},
        {"transform":[{"filter":"datum.kind==='note'"}],"mark":{"type":"text","align":"left","baseline":"alphabetic","dx":3,"fontSize":21,"lineBreak":"\n","lineHeight":30,"color":"#000"},
         "encoding":{"x":{"field":"t","type":"quantitative","axis":null},"y":{"field":"p","type":"quantitative","axis":null},"text":{"field":"label"}}}
       ]},
      {"width":289,"height":164,"data":{"name":"rows"},"transform":[{"filter":"datum.panel==='ABR105-U'"}],
       "resolve":{"axis":{"x":"independent","y":"independent"}},
       "layer":[
        {"transform":[{"filter":"datum.kind==='diag'"}],"mark":{"type":"rule","color":"#000","strokeWidth":1},
         "encoding":{"x":{"field":"t","type":"quantitative","scale":{"domain":[11.4,39.2],"nice":false,"zero":false},"axis":{"title":"True capacity","values":[15,20,25,30,35],"format":".2~f"}},
                     "y":{"field":"p","type":"quantitative","scale":{"domain":[11.4,39.2],"nice":false,"zero":false},"axis":{"title":"Predicted capacity","values":[15,20,25,30,35],"format":".2~f"}},
                     "x2":{"field":"t2"},"y2":{"field":"p2"}}},
        {"transform":[{"filter":"!datum.kind"}],"mark":{"type":"circle","size":60,"color":"#000","opacity":1},
         "encoding":{"x":{"field":"t","type":"quantitative","axis":{"orient":"top","title":"ABR105-U","labels":false,"grid":false,"values":[15,20,25,30,35]}},
                     "y":{"field":"p","type":"quantitative","axis":{"orient":"right","title":null,"labels":false,"grid":false,"values":[15,20,25,30,35]}}}},
        {"transform":[{"filter":"datum.kind==='note'"}],"mark":{"type":"text","align":"left","baseline":"alphabetic","dx":3,"fontSize":21,"lineBreak":"\n","lineHeight":30,"color":"#000"},
         "encoding":{"x":{"field":"t","type":"quantitative","axis":null},"y":{"field":"p","type":"quantitative","axis":null},"text":{"field":"label"}}}
       ]},
      {"width":289,"height":164,"data":{"name":"rows"},"transform":[{"filter":"datum.panel==='ABR105-S'"}],
       "resolve":{"axis":{"x":"independent","y":"independent"}},
       "layer":[
        {"transform":[{"filter":"datum.kind==='diag'"}],"mark":{"type":"rule","color":"#000","strokeWidth":1},
         "encoding":{"x":{"field":"t","type":"quantitative","scale":{"domain":[53.1,74.2],"nice":false,"zero":false},"axis":{"title":"True capacity","values":[55,60,65,70],"format":".2~f"}},
                     "y":{"field":"p","type":"quantitative","scale":{"domain":[53.1,74.2],"nice":false,"zero":false},"axis":{"title":null,"values":[55,60,65,70],"format":".2~f"}},
                     "x2":{"field":"t2"},"y2":{"field":"p2"}}},
        {"transform":[{"filter":"!datum.kind"}],"mark":{"type":"circle","size":60,"color":"#000","opacity":1},
         "encoding":{"x":{"field":"t","type":"quantitative","axis":{"orient":"top","title":"ABR105-S","labels":false,"grid":false,"values":[55,60,65,70]}},
                     "y":{"field":"p","type":"quantitative","axis":{"orient":"right","title":null,"labels":false,"grid":false,"values":[55,60,65,70]}}}},
        {"transform":[{"filter":"datum.kind==='note'"}],"mark":{"type":"text","align":"left","baseline":"alphabetic","dx":3,"fontSize":21,"lineBreak":"\n","lineHeight":30,"color":"#000"},
         "encoding":{"x":{"field":"t","type":"quantitative","axis":null},"y":{"field":"p","type":"quantitative","axis":null},"text":{"field":"label"}}}
       ]},
      {"width":289,"height":164,"data":{"name":"rows"},"transform":[{"filter":"datum.panel==='ABR105-R'"}],
       "resolve":{"axis":{"x":"independent","y":"independent"}},
       "layer":[
        {"transform":[{"filter":"datum.kind==='diag'"}],"mark":{"type":"rule","color":"#000","strokeWidth":1},
         "encoding":{"x":{"field":"t","type":"quantitative","scale":{"domain":[2.87,6.8],"nice":false,"zero":false},"axis":{"title":"True capacity","values":[3,4,5,6],"format":".2~f"}},
                     "y":{"field":"p","type":"quantitative","scale":{"domain":[2.87,6.8],"nice":false,"zero":false},"axis":{"title":null,"values":[4,6],"format":".2~f"}},
                     "x2":{"field":"t2"},"y2":{"field":"p2"}}},
        {"transform":[{"filter":"!datum.kind"}],"mark":{"type":"circle","size":60,"color":"#000","opacity":1},
         "encoding":{"x":{"field":"t","type":"quantitative","axis":{"orient":"top","title":"ABR105-R","labels":false,"grid":false,"values":[3,4,5,6]}},
                     "y":{"field":"p","type":"quantitative","axis":{"orient":"right","title":null,"labels":false,"grid":false,"values":[4,6]}}}},
        {"transform":[{"filter":"datum.kind==='note'"}],"mark":{"type":"text","align":"left","baseline":"alphabetic","dx":3,"fontSize":21,"lineBreak":"\n","lineHeight":30,"color":"#000"},
         "encoding":{"x":{"field":"t","type":"quantitative","axis":null},"y":{"field":"p","type":"quantitative","axis":null},"text":{"field":"label"}}}
       ]}
  ],
  "config": {
    "font": "DejaVu Serif",
    "view": {"stroke": "#262626", "strokeWidth": 1.2},
    "axis": {
      "labelFont": "DejaVu Serif", "titleFont": "DejaVu Serif",
      "labelFontSize": 18, "titleFontSize": 20, "titleFontWeight": "normal",
      "labelColor": "#262626", "titleColor": "#262626",
      "grid": true, "gridColor": "#e2e2e2", "gridWidth": 1,
      "domain": false, "ticks": true, "tickColor": "#262626", "tickSize": -4, "tickWidth": 1,
      "labelFlush": false, "labelOverlap": false, "labelBound": false
    },
    "axisBottom": {"labelPadding": 14, "titlePadding": 11},
    "axisLeft": {"labelPadding": 17, "titlePadding": 6},
    "axisTop": {"titleFontSize": 21, "titleColor": "#000", "titlePadding": 5},
    "text": {"font": "DejaVu Serif"}
  }
}
